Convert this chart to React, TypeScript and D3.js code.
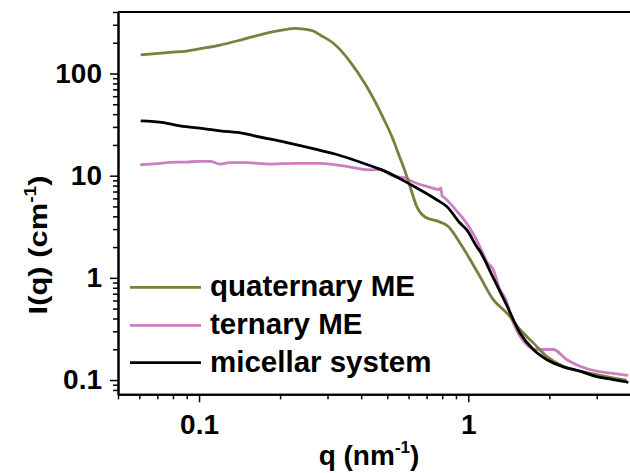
import React, { useEffect, useRef } from 'react'
import * as d3 from 'd3'

// q in nm^-1, I in cm^-1
const quatQ = [0.0607, 0.078, 0.09, 0.1038, 0.1197, 0.138, 0.159, 0.1836, 0.212, 0.227, 0.245, 0.2657, 0.2817, 0.3155, 0.3637, 0.4195, 0.4836, 0.5265, 0.5576, 0.5737, 0.6075, 0.6433, 0.6906, 0.774, 0.843, 0.9315, 1.0, 1.105, 1.238, 1.389, 1.556, 1.743, 1.954, 2.253, 2.598, 3.0, 3.45, 3.87]
const quatI = [152, 161, 166, 177, 190, 208, 230, 253, 271, 277, 272, 261, 238, 198, 131, 74.5, 36.6, 22.4, 14.9, 12.3, 7.84, 5.0, 3.94, 3.57, 3.18, 2.19, 1.62, 1.03, 0.612, 0.454, 0.312, 0.231, 0.171, 0.1365, 0.122, 0.113, 0.105, 0.0995]

const ternQ = [0.0605, 0.07, 0.078, 0.09, 0.1, 0.11, 0.1197, 0.13, 0.15, 0.1836, 0.224, 0.2817, 0.3435, 0.4315, 0.47, 0.5265, 0.59, 0.6075, 0.72, 0.78, 0.79, 0.8, 0.808, 0.906, 0.95, 1.06, 1.137, 1.17, 1.238, 1.311, 1.369, 1.47, 1.648, 1.795, 2.068, 2.318, 2.598, 3.0, 3.45, 3.93]
const ternI = [12.8, 13.1, 13.5, 13.6, 13.8, 13.8, 13.0, 13.4, 13.4, 13.0, 13.2, 13.2, 12.5, 11.4, 11.5, 9.9, 9.4, 9.0, 7.7, 7.3, 7.6, 6.3, 6.2, 4.5, 3.9, 2.5, 1.7, 1.45, 1.2, 0.767, 0.637, 0.362, 0.222, 0.199, 0.199, 0.159, 0.1365, 0.122, 0.116, 0.111]

const micQ = [0.0607, 0.0739, 0.085, 0.1038, 0.1197, 0.146, 0.159, 0.212, 0.2775, 0.32, 0.457, 0.47, 0.615, 0.763, 0.832, 0.9315, 0.986, 1.074, 1.105, 1.238, 1.38, 1.556, 1.743, 1.954, 2.253, 2.598, 3.0, 3.45, 3.93]
const micI = [34.4, 33.1, 30.7, 28.9, 27.5, 26, 24.7, 21.1, 17.9, 16.3, 11.9, 11.6, 8.1, 5.81, 5.0, 3.44, 2.96, 2.03, 1.82, 1.0, 0.56, 0.289, 0.199, 0.159, 0.1346, 0.122, 0.108, 0.101, 0.095]

const seriesNames = ['quaternary ME', 'ternary ME', 'micellar system']
const seriesColors = ['#7b7e3c', '#c97fc1', '#000000']

const xMajor = [0.1, 1]
const xMinor = [0.05, 0.06, 0.07, 0.08, 0.09, 0.2, 0.3, 0.4, 0.5, 0.6, 0.7, 0.8, 0.9, 2, 3, 4]
const yMajor = [0.1, 1, 10, 100]
const yMinor = [0.08, 0.09, 0.2, 0.3, 0.4, 0.5, 0.6, 0.7, 0.8, 0.9, 2, 3, 4, 5, 6, 7, 8, 9, 20, 30, 40, 50, 60, 70, 80, 90, 200, 300, 400]

const font = '"Liberation Sans", Arial, sans-serif'

function App() {
  const ref = useRef<SVGSVGElement>(null)

  useEffect(() => {
    const svg = d3.select(ref.current)
    svg.selectAll('*').remove()

    const left = 118, right = 630.4, top = 12, bottom = 394.3

    const x = d3.scaleLog().domain([0.05, 4]).range([left, right])
    const y = d3.scaleLog().domain([0.0725, 400]).range([bottom, top])

    // curves
    const data = [
      quatQ.map((q, i) => [q, quatI[i]]),
      ternQ.map((q, i) => [q, ternI[i]]),
      micQ.map((q, i) => [q, micI[i]]),
    ]
    const line = d3.line<number[]>()
      .x(d => x(d[0]))
      .y(d => y(d[1]))
      .curve(d3.curveMonotoneX)

    // draw pink, olive, then black on top
    const order = [1, 0, 2]
    order.forEach(k => {
      svg.append('path')
        .attr('d', line(data[k]))
        .attr('fill', 'none')
        .attr('stroke', seriesColors[k])
        .attr('stroke-width', 2.8)
        .attr('stroke-linejoin', 'round')
    })

    // frame
    svg.append('line')
      .attr('x1', left).attr('x2', 630).attr('y1', top).attr('y2', top)
      .attr('stroke', '#000').attr('stroke-width', 2)

    const xAxis = svg.append('g').attr('transform', `translate(0,${bottom})`)
    xAxis.call(d3.axisBottom(x).tickValues(xMinor).tickSize(5).tickSizeOuter(0).tickFormat(() => ''))
    xAxis.append('g').call(d3.axisBottom(x).tickValues(xMajor).tickSize(8).tickSizeOuter(0).tickPadding(12).tickFormat(d3.format('')))
    xAxis.selectAll('.domain').attr('stroke-width', 2)
    xAxis.selectAll('line').attr('stroke-width', 1.5)

    const yAxis = svg.append('g').attr('transform', `translate(${left},0)`)
    yAxis.call(d3.axisLeft(y).tickValues(yMinor).tickSize(5).tickSizeOuter(0).tickFormat(() => ''))
    yAxis.append('g').call(d3.axisLeft(y).tickValues(yMajor).tickSize(8).tickSizeOuter(0).tickPadding(8).tickFormat(d3.format('')))
    yAxis.selectAll('.domain').attr('stroke-width', 2)
    yAxis.selectAll('line').attr('stroke-width', 1.5)

    svg.selectAll('.tick text')
      .attr('font-family', font)
      .attr('font-weight', 'bold')
      .attr('font-size', 28)
      .attr('fill', '#000')

    // axis titles
    const xt = svg.append('text')
      .attr('x', 369).attr('y', 465)
      .attr('text-anchor', 'middle')
      .attr('font-family', font).attr('font-weight', 'bold').attr('font-size', 28)
    xt.append('tspan').text('q (nm')
    xt.append('tspan').attr('font-size', 17).attr('dy', -12).text('-1')
    xt.append('tspan').attr('dy', 12).text(')')

    const yt = svg.append('text')
      .attr('transform', 'translate(47,245) rotate(-90) scale(1.19,1)')
      .attr('text-anchor', 'middle')
      .attr('font-family', font).attr('font-weight', 'bold').attr('font-size', 26)
    yt.append('tspan').text('I(q) (cm')
    yt.append('tspan').attr('font-size', 16).attr('dy', -11).text('-1')
    yt.append('tspan').attr('dy', 11).text(')')

    // legend
    const legY = [287.3, 325.3, 362.7]
    seriesNames.forEach((name, k) => {
      svg.append('line')
        .attr('x1', 130).attr('x2', 201)
        .attr('y1', legY[k]).attr('y2', legY[k])
        .attr('stroke', seriesColors[k]).attr('stroke-width', 2.8)
      svg.append('text')
        .attr('x', 210).attr('y', legY[k] + 9)
        .attr('font-family', font).attr('font-weight', 'bold').attr('font-size', 29.5)
        .text(name)
    })
  }, [])

  return (
    <svg ref={ref} width={630} height={473}
      style={{ position: 'absolute', left: 0, top: 0, background: '#fff' }} />
  )
}

export default App
